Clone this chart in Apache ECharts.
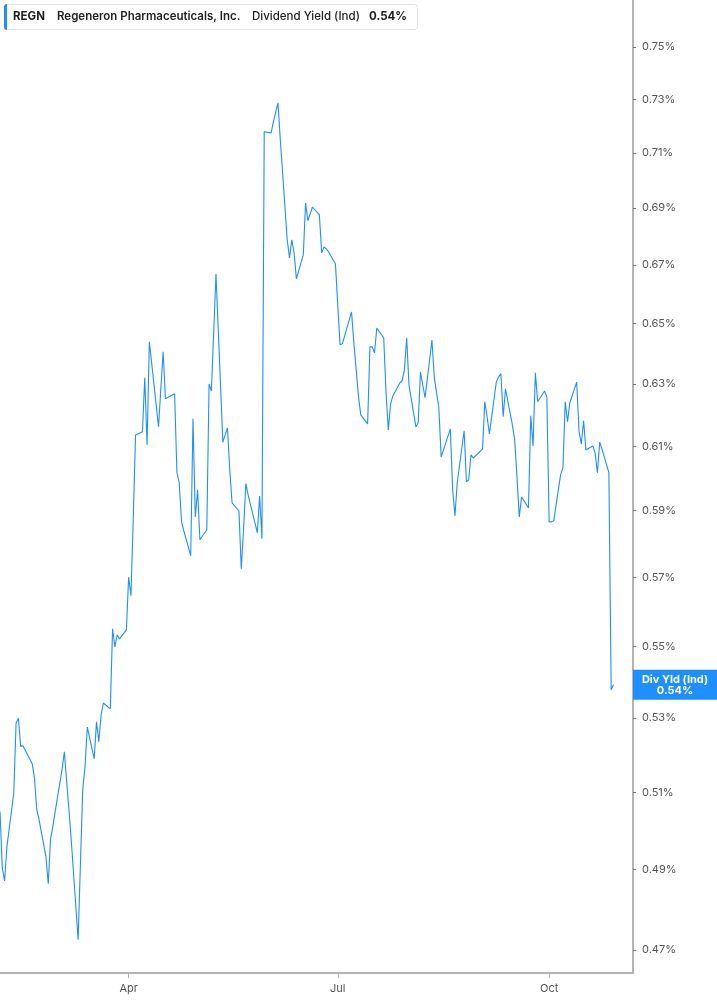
<!DOCTYPE html>
<html>
<head>
<meta charset="utf-8">
<script src="https://cdn.jsdelivr.net/npm/echarts@6/dist/echarts.min.js"></script>
<style>
html,body{margin:0;padding:0;background:#ffffff;}
#chart{width:717px;height:1005px;}
</style>
</head>
<body>
<div id="chart"></div>
<script>
// ---------- data ----------
const ticker = 'REGN';
const company = 'Regeneron Pharmaceuticals, Inc.';
const metricName = 'Dividend Yield (Ind)';
const seriesShort = 'Div Yld (Ind)';

const dates = [
  '2025-02-04','2025-02-05','2025-02-06','2025-02-07',
  '2025-02-10','2025-02-11','2025-02-12','2025-02-13','2025-02-14',
  '2025-02-18','2025-02-19','2025-02-20','2025-02-21',
  '2025-02-24','2025-02-25','2025-02-26','2025-02-27','2025-02-28',
  '2025-03-03','2025-03-04','2025-03-05','2025-03-06','2025-03-07',
  '2025-03-10','2025-03-11','2025-03-12','2025-03-13','2025-03-14',
  '2025-03-17','2025-03-18','2025-03-19','2025-03-20','2025-03-21',
  '2025-03-24','2025-03-25','2025-03-26','2025-03-27','2025-03-28',
  '2025-03-31','2025-04-01','2025-04-02','2025-04-03','2025-04-04',
  '2025-04-07','2025-04-08','2025-04-09','2025-04-10','2025-04-11',
  '2025-04-14','2025-04-15','2025-04-16','2025-04-17',
  '2025-04-21','2025-04-22','2025-04-23','2025-04-24','2025-04-25',
  '2025-04-28','2025-04-29','2025-04-30','2025-05-01','2025-05-02',
  '2025-05-05','2025-05-06','2025-05-07','2025-05-08','2025-05-09',
  '2025-05-12','2025-05-13','2025-05-14','2025-05-15','2025-05-16',
  '2025-05-19','2025-05-20','2025-05-21','2025-05-22','2025-05-23',
  '2025-05-27','2025-05-28','2025-05-29','2025-05-30',
  '2025-06-02','2025-06-03','2025-06-04','2025-06-05','2025-06-06',
  '2025-06-09','2025-06-10','2025-06-11','2025-06-12','2025-06-13',
  '2025-06-16','2025-06-17','2025-06-18','2025-06-20',
  '2025-06-23','2025-06-24','2025-06-25','2025-06-26','2025-06-27',
  '2025-06-30','2025-07-01','2025-07-02','2025-07-03',
  '2025-07-07','2025-07-08','2025-07-09','2025-07-10','2025-07-11',
  '2025-07-14','2025-07-15','2025-07-16','2025-07-17','2025-07-18',
  '2025-07-21','2025-07-22','2025-07-23','2025-07-24','2025-07-25',
  '2025-07-28','2025-07-29','2025-07-30','2025-07-31','2025-08-01',
  '2025-08-04','2025-08-05','2025-08-06','2025-08-07','2025-08-08',
  '2025-08-11','2025-08-12','2025-08-13','2025-08-14','2025-08-15',
  '2025-08-18','2025-08-19','2025-08-20','2025-08-21','2025-08-22',
  '2025-08-25','2025-08-26','2025-08-27','2025-08-28','2025-08-29',
  '2025-09-02','2025-09-03','2025-09-04','2025-09-05',
  '2025-09-08','2025-09-09','2025-09-10','2025-09-11','2025-09-12',
  '2025-09-15','2025-09-16','2025-09-17','2025-09-18','2025-09-19',
  '2025-09-22','2025-09-23','2025-09-24','2025-09-25','2025-09-26',
  '2025-09-29','2025-09-30','2025-10-01','2025-10-02','2025-10-03',
  '2025-10-06','2025-10-07','2025-10-08','2025-10-09','2025-10-10',
  '2025-10-13','2025-10-14','2025-10-15','2025-10-16','2025-10-17',
  '2025-10-20','2025-10-21','2025-10-22','2025-10-23','2025-10-24',
  '2025-10-27','2025-10-28','2025-10-29'
];

const yieldPct = [
  0.5049,0.4904,0.4871,0.4958,
  0.5098,0.5286,0.5299,0.5222,0.5224,
  0.5176,0.5138,0.5054,0.5028,
  0.4932,0.4864,0.4979,0.5010,0.5049,
  0.5160,0.5208,0.5130,0.5054,0.4976,
  0.4725,0.4914,0.5106,0.5168,0.5275,
  0.5189,0.5289,0.5235,0.5308,0.5341,
  0.5325,0.5550,0.5498,0.5533,0.5521,
  0.5547,0.5701,0.5646,0.5878,0.6136,
  0.6146,0.6320,0.6104,0.6439,0.6369,
  0.6162,0.6284,0.6406,0.6252,
  0.6268,0.6017,0.5986,0.5866,0.5839,
  0.5764,0.6187,0.5881,0.5964,0.5812,
  0.5842,0.6300,0.6277,0.6469,0.6669,
  0.6113,0.6136,0.6158,0.6026,0.5924,
  0.5899,0.5725,0.5842,0.5983,0.5948,
  0.5833,0.5945,0.5815,0.7178,
  0.7174,0.7215,0.7252,0.7286,0.7148,
  0.6788,0.6724,0.6788,0.6742,0.6652,
  0.6735,0.6918,0.6855,0.6904,
  0.6876,0.6742,0.6763,0.6756,0.6746,
  0.6703,0.6563,0.6429,0.6432,
  0.6539,0.6436,0.6349,0.6261,0.6200,
  0.6171,0.6422,0.6422,0.6402,0.6485,
  0.6452,0.6274,0.6152,0.6235,0.6261,
  0.6303,0.6310,0.6346,0.6452,0.6296,
  0.6162,0.6174,0.6339,0.6296,0.6255,
  0.6445,0.6323,0.6271,0.6223,0.6066,
  0.6133,0.6155,0.5964,0.5884,0.5986,
  0.6149,0.5989,0.5995,0.6073,0.6063,
  0.6091,0.6242,0.6194,0.6139,
  0.6306,0.6323,0.6333,0.6194,0.6284,
  0.6168,0.6120,0.6004,0.5881,0.5942,
  0.5908,0.6197,0.6101,0.6336,0.6242,
  0.6277,0.6258,0.5866,0.5866,0.5869,
  0.6011,0.6032,0.6242,0.6178,0.6239,
  0.6306,0.6149,0.6107,0.6181,0.6088,
  0.6101,0.6079,0.6017,0.6113,0.6091,
  0.6017,0.5378,0.5392
];

const yTickValues = [0.47,0.49,0.51,0.53,0.55,0.57,0.59,0.61,0.63,0.65,0.67,0.69,0.71,0.73,0.75];
const xTickDates = ['2025-04-01','2025-07-01','2025-10-01'];
const xTickLabels = ['Apr','Jul','Oct'];

// ---------- helpers ----------
function ts(s){ const p = s.split('-').map(Number); return new Date(p[0], p[1]-1, p[2]).getTime(); }
const DAY = 86400000;
const xMin = ts('2025-02-04');
const xMax = ts('2025-11-06') + 0.5 * DAY;
const yMin = Math.log(0.46445);
const yMax = Math.log(0.76847);

const FONT = 'Inter, "Noto Sans", sans-serif';
const BLUE = '#1e8ffc';
const AXIS = '#b4b4b4';
const LABEL = '#555555';

const seriesData = dates.map((d, i) => [ts(d), Math.log(yieldPct[i])]);
const xTickTs = xTickDates.map(ts);

const chart = echarts.init(document.getElementById('chart'), null, {renderer: 'canvas'});

chart.setOption({
  animation: false,
  backgroundColor: '#ffffff',
  grid: {left: 0, right: 84, top: 0, bottom: 32, containLabel: false},
  xAxis: {
    type: 'value',
    min: xMin,
    max: xMax,
    axisLine: {show: true, lineStyle: {color: AXIS, width: 2}},
    axisTick: {show: true, customValues: xTickTs, length: 5, lineStyle: {color: AXIS, width: 1}},
    axisLabel: {
      customValues: xTickTs,
      formatter: function (v) {
        let best = 0, bd = Infinity;
        xTickTs.forEach((t, i) => { const d = Math.abs(t - v); if (d < bd) { bd = d; best = i; } });
        return xTickLabels[best];
      },
      color: LABEL, fontSize: 11, fontFamily: FONT, margin: 10
    },
    splitLine: {show: false}
  },
  yAxis: {
    type: 'value',
    position: 'right',
    min: yMin,
    max: yMax,
    axisLine: {show: true, lineStyle: {color: AXIS, width: 2}},
    axisTick: {show: true, customValues: yTickValues.map(Math.log), length: 3, lineStyle: {color: '#777', width: 1}},
    axisLabel: {
      customValues: yTickValues.map(Math.log),
      formatter: function (v) { return Math.exp(v).toFixed(2) + '%'; },
      color: LABEL, fontSize: 11, fontFamily: FONT, margin: 9
    },
    splitLine: {show: false}
  },
  series: [{
    type: 'line',
    data: seriesData,
    showSymbol: false,
    symbol: 'none',
    clip: true,
    lineStyle: {color: BLUE, width: 1.1},
    emphasis: {disabled: true}
  }]
});

const last = yieldPct[yieldPct.length - 1];
const yPix = chart.convertToPixel({yAxisIndex: 0}, Math.log(last));
const lastText = last.toFixed(2) + '%';
const HFONT = '11.5px ' + FONT;

chart.setOption({
  graphic: [
    {type: 'rect', z: 100, shape: {x: 4.5, y: 4.5, width: 413, height: 25, r: 3},
      style: {fill: '#ffffff', stroke: '#e2e2e2', lineWidth: 1}},
    {type: 'rect', z: 101, shape: {x: 4, y: 4, width: 3, height: 26, r: [3, 0, 0, 3]},
      style: {fill: BLUE}},
    {type: 'text', z: 102, x: 13, y: 17,
      style: {text: ticker, fill: '#222', font: 'bold ' + HFONT, verticalAlign: 'middle'}},
    {type: 'text', z: 102, x: 57, y: 17,
      style: {text: company, fill: '#222', font: '600 ' + HFONT, verticalAlign: 'middle'}},
    {type: 'text', z: 102, x: 252, y: 17,
      style: {text: metricName, fill: '#222', font: '500 ' + HFONT, verticalAlign: 'middle'}},
    {type: 'text', z: 102, x: 369, y: 17,
      style: {text: lastText, fill: '#222', font: 'bold ' + HFONT, verticalAlign: 'middle'}},
    {type: 'rect', z: 100, shape: {x: 633, y: yPix - 15, width: 84, height: 30},
      style: {fill: BLUE}},
    {type: 'text', z: 101, x: 675, y: yPix - 5,
      style: {text: seriesShort, fill: '#fff', font: 'bold 11px ' + FONT, align: 'center', verticalAlign: 'middle'}},
    {type: 'text', z: 101, x: 675, y: yPix + 6,
      style: {text: lastText, fill: '#fff', font: 'bold 11px ' + FONT, align: 'center', verticalAlign: 'middle'}}
  ]
});
</script>
</body>
</html>
